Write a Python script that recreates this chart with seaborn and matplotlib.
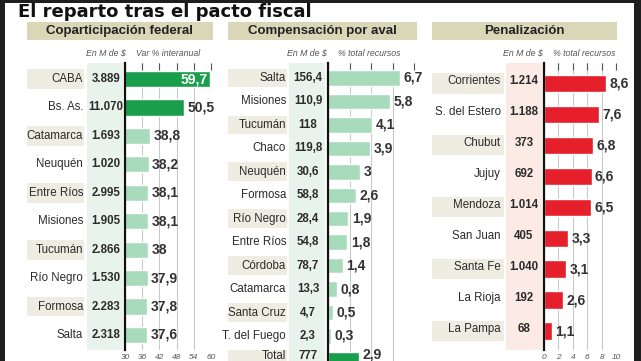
import matplotlib
matplotlib.use("Agg")
import matplotlib.pyplot as plt
import seaborn as sns
from matplotlib.patches import Rectangle
from matplotlib import transforms

# ---------------- data ----------------
cop_names = ["CABA", "Bs. As.", "Catamarca", "Neuquén", "Entre Ríos", "Misiones",
             "Tucumán", "Río Negro", "Formosa", "Salta"]
cop_amount = ["3.889", "11.070", "1.693", "1.020", "2.995", "1.905", "2.866",
              "1.530", "2.283", "2.318"]
cop_var = [59.7, 50.5, 38.8, 38.2, 38.1, 38.1, 38.0, 37.9, 37.8, 37.6]
cop_ticks = [30, 36, 42, 48, 54, 60]

comp_names = ["Salta", "Misiones", "Tucumán", "Chaco", "Neuquén", "Formosa",
              "Río Negro", "Entre Ríos", "Córdoba", "Catamarca", "Santa Cruz",
              "T. del Fuego", "Total"]
comp_amount = ["156,4", "110,9", "118", "119,8", "30,6", "58,8", "28,4", "54,8",
               "78,7", "13,3", "4,7", "2,3", "777"]
comp_pct = [6.7, 5.8, 4.1, 3.9, 3.0, 2.6, 1.9, 1.8, 1.4, 0.8, 0.5, 0.3, 2.9]
comp_ticks = [0, 2, 4, 6, 8]

pen_names = ["Corrientes", "S. del Estero", "Chubut", "Jujuy", "Mendoza",
             "San Juan", "Santa Fe", "La Rioja", "La Pampa"]
pen_amount = ["1.214", "1.188", "373", "692", "1.014", "405", "1.040", "192", "68"]
pen_pct = [8.6, 7.6, 6.8, 6.6, 6.5, 3.3, 3.1, 2.6, 1.1]
pen_ticks = [0, 2, 4, 6, 8, 10]

# ---------------- style ----------------
sns.set_style("white")
plt.rcParams["font.family"] = ["Liberation Sans", "DejaVu Sans"]

W, H = 641, 361
fig = plt.figure(figsize=(W / 100, H / 100), dpi=100)
fig.patch.set_facecolor("white")

DARK_GREEN = "#1a9e4c"
LIGHT_GREEN = "#a8dbbb"
RED = "#e5202a"
BEIGE = "#efece2"
HEADER = "#d9d7b8"
TXT = "#2b2b2b"


def fx(px):
    return px / W


def fy(py):
    return 1 - py / H


def fmt(v):
    s = f"{v:.1f}"
    if s.endswith(".0"):
        s = s[:-2]
    return s.replace(".", ",")


def panel(x0, x1, y0, y1, row0, step, names, amounts, vals, colors, xlim, ticks,
          show_ticklabels, name_right, amount_center, box_x0, box_x1, box_h,
          bar_h, strip, strip_color, name_dy=0.0, inside_first=False,
          last_dy=0.0, last_vdy=0.0):
    ax = fig.add_axes([fx(x0), fy(y1), (x1 - x0) / W, (y1 - y0) / H])
    ax.set_facecolor("none")
    pal = {n: c for n, c in zip(names, colors)}
    sns.barplot(x=vals, y=names, hue=names, palette=pal, legend=False, ax=ax,
                orient="h", width=bar_h, saturation=1, zorder=2)
    top = -(row0 - y0) / step
    bottom = (y1 - row0) / step
    ax.set_ylim(bottom, top)
    ax.set_xlim(*xlim)
    ax.set_xticks(ticks)
    ax.set_yticks([])
    ax.set_xlabel("")
    ax.set_ylabel("")
    ax.grid(axis="x", color="#c9c9c9", lw=0.8, zorder=0)
    ax.grid(axis="y", visible=False)
    ax.set_axisbelow(True)
    for s in ["top", "right", "bottom"]:
        ax.spines[s].set_visible(False)
    ax.spines["left"].set_color("#111111")
    ax.spines["left"].set_linewidth(1.6)
    ax.spines["left"].set_zorder(3)
    ax.tick_params(axis="x", top=True, bottom=False, direction="in", length=5,
                   color="#555555", width=0.8, labelbottom=show_ticklabels,
                   labeltop=False, labelsize=6, labelcolor="#555555", pad=3)
    for lab in ax.get_xticklabels():
        lab.set_fontstyle("italic")

    blend = transforms.blended_transform_factory(fig.transFigure, ax.transData)
    # value column strip
    ax.add_patch(Rectangle((fx(strip[0]), fy(strip[3])), (strip[1] - strip[0]) / W,
                           (strip[3] - strip[2]) / H, transform=fig.transFigure,
                           facecolor=strip_color, edgecolor="none", clip_on=False,
                           zorder=0.1))
    n_rows = len(names)
    for i, (n, a, v) in enumerate(zip(names, amounts, vals)):
        dy = name_dy + (last_dy if i == n_rows - 1 else 0.0)
        vdy = last_vdy if i == n_rows - 1 else 0.0
        if i % 2 == 0:
            ax.add_patch(Rectangle((fx(box_x0), i - box_h / 2), (box_x1 - box_x0) / W,
                                   box_h, transform=blend, facecolor=BEIGE,
                                   edgecolor="none", clip_on=False, zorder=0.2))
        ax.annotate(n, xy=(fx(name_right), i), xycoords=blend, xytext=(0, dy),
                    textcoords="offset points", ha="right", va="center",
                    fontsize=8.3, color=TXT, annotation_clip=False, zorder=4)
        ax.annotate(a, xy=(fx(amount_center), i), xycoords=blend, xytext=(0, dy),
                    textcoords="offset points", ha="center", va="center",
                    fontsize=8.3, fontweight="bold", color=TXT,
                    annotation_clip=False, zorder=4)
        if inside_first and i == 0:
            ax.annotate(fmt(v), xy=(v, i), xytext=(-2, 0), textcoords="offset points",
                        ha="right", va="center", fontsize=10, fontweight="bold",
                        color="white", annotation_clip=False, zorder=5)
        else:
            ax.annotate(fmt(v), xy=(v, i), xytext=(2.5, vdy), textcoords="offset points",
                        ha="left", va="center", fontsize=10, fontweight="bold",
                        color="#333333", annotation_clip=False, zorder=5)
    return ax


# Panel 1: Coparticipación federal
cop_colors = [DARK_GREEN, DARK_GREEN] + [LIGHT_GREEN] * (len(cop_names) - 2)
panel(125, 211, 63, 350, 79, 28.44, cop_names, cop_amount, cop_var, cop_colors,
      (30, 60), cop_ticks, True, 83, 106, 27, 84, 0.70, 0.57,
      (87, 123, 63, 350), "#e8f4eb", inside_first=True)

# Panel 2: Compensación por aval
comp_colors = [LIGHT_GREEN] * (len(comp_names) - 1) + [DARK_GREEN]
panel(328, 414, 63, 361, 78, 23.45, comp_names, comp_amount, comp_pct, comp_colors,
      (0, 8), comp_ticks, False, 286, 308, 228, 287, 0.80, 0.66,
      (289, 325, 63, 361), "#e8f4eb", last_dy=2.6, last_vdy=3.8)

# Panel 3: Penalización
pen_colors = [RED] * len(pen_names)
panel(544, 616, 63, 350, 83.5, 30.94, pen_names, pen_amount, pen_pct, pen_colors,
      (0, 10), pen_ticks, True, 501, 524, 432, 504, 0.65, 0.56,
      (506, 542, 63, 350), "#fcebe5", name_dy=1.8)

# Headers
for (x0, x1, label) in [(27, 213, "Coparticipación federal"),
                        (228, 417, "Compensación por aval"),
                        (432, 617, "Penalización")]:
    fig.add_artist(Rectangle((fx(x0), fy(40)), (x1 - x0) / W, 18 / H,
                             transform=fig.transFigure, facecolor=HEADER,
                             edgecolor="none"))
    fig.text(fx((x0 + x1) / 2), fy(31), label, ha="center", va="center",
             fontsize=9.5, fontweight="bold", color="#222222")

# Sub headers
for (x, label) in [(106, "En M de $"), (168, "Var % interanual"),
                   (307, "En M de $"), (369, "% total recursos"),
                   (523, "En M de $"), (584, "% total recursos")]:
    fig.text(fx(x), fy(53), label, ha="center", va="center", fontsize=6.3,
             fontstyle="italic", color="#555555")

# Title
fig.text(fx(18), fy(17), "El reparto tras el pacto fiscal", ha="left",
         va="baseline", fontsize=13, fontweight="bold", color="#111111",
         family=["DejaVu Sans"])

# Frame bands
for (x0, y0, w, h) in [(0, 0, 641, 3), (0, 0, 5, 361), (634, 0, 7, 361)]:
    fig.add_artist(Rectangle((fx(x0), fy(y0 + h)), w / W, h / H,
                             transform=fig.transFigure, facecolor="#1e1e1e",
                             edgecolor="none"))

fig.savefig("out.png", dpi=100)
